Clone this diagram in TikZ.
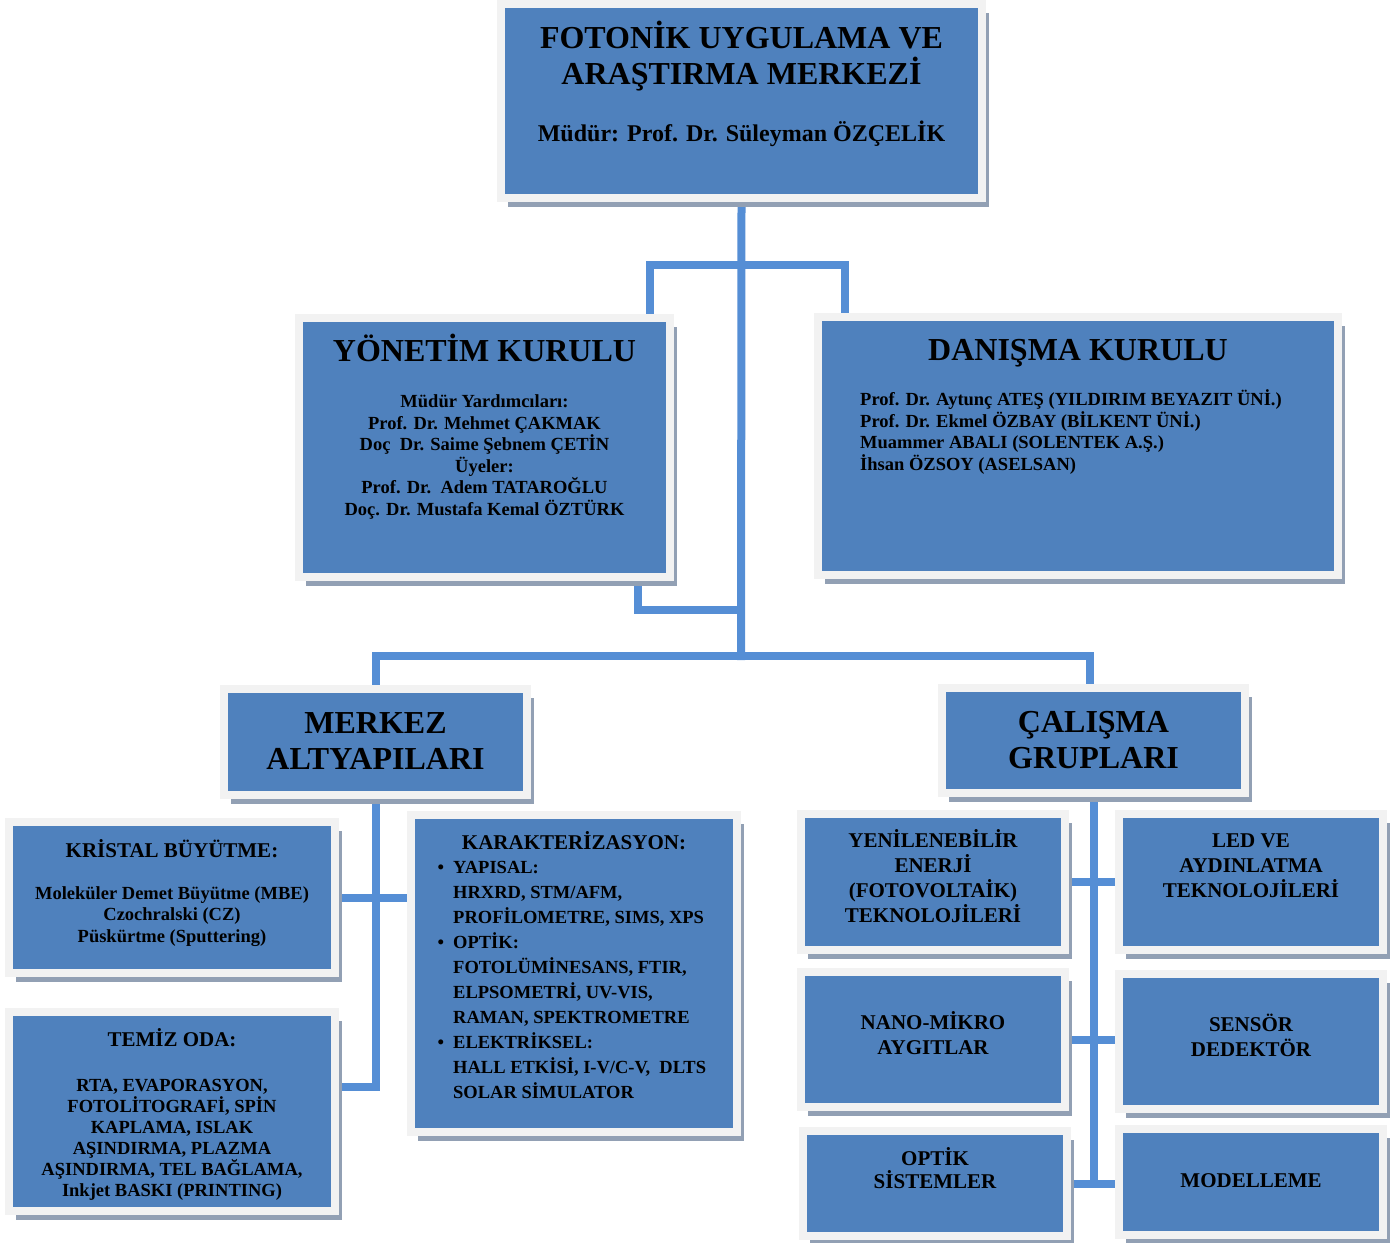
\documentclass[tikz,border=0pt]{standalone}
\usepackage{fontspec}
\setmainfont{Liberation Serif}
\usepackage{tikz}
\usetikzlibrary{positioning, shadows}
\usepackage{xcolor}

\definecolor{kutumavi}{RGB}{79,129,189}
\definecolor{cerceve}{RGB}{242,242,242}
\definecolor{golge}{RGB}{146,160,180}
\definecolor{hatmavi}{RGB}{85,142,213}

\pgfdeclarelayer{arka}
\pgfsetlayers{arka,main}

\newcommand{\madde}{\llap{\textbullet\hspace{9pt}}}

\begin{document}
\begin{tikzpicture}[ % Starts the TikZ drawing environment
        x=1pt, y=-1pt, % One unit per pixel, y pointing down
        kutu/.style={rectangle, fill=kutumavi, draw=cerceve, line width=8pt, inner sep=0pt,
            drop shadow={shadow xshift=7pt, shadow yshift=-9pt, fill=golge, opacity=1}}, % Blue box with light frame and shadow
        baslik/.style={font=\bfseries\fontsize{32}{36}\selectfont, align=center, inner sep=0pt, anchor=base}, % Big headings
        orta/.style={font=\bfseries\fontsize{24}{28}\selectfont, align=center, inner sep=0pt, anchor=base}, % Director line
        altbaslik/.style={font=\bfseries\fontsize{21}{25}\selectfont, align=center, inner sep=0pt, anchor=base}, % Small headings and groups
        yazi/.style={font=\bfseries\fontsize{18.5}{21.5}\selectfont, align=center, inner sep=0pt, anchor=base}, % Body text
        liste/.style={font=\bfseries\fontsize{18.5}{25}\selectfont, align=left, inner sep=0pt, anchor=base west}, % Bullet list
        baglanti/.style={draw=hatmavi, line width=8pt, line cap=rect} % Connector lines
    ]
    \useasboundingbox (0,0) rectangle (1396,1242);
    % --- Boxes ---
    \node (ust) [kutu, minimum width=481pt, minimum height=194pt] at (741.5,101) {};
    \node (yon) [kutu, minimum width=371pt, minimum height=259pt] at (484.5,447.5) {};
    \node (dan) [kutu, minimum width=520pt, minimum height=258pt] at (1078,446) {};
    \node (mer) [kutu, minimum width=303pt, minimum height=106pt] at (375.5,742) {};
    \node (cal) [kutu, minimum width=303pt, minimum height=105pt] at (1093.5,740.5) {};
    \node (kri) [kutu, minimum width=326pt, minimum height=151pt] at (172,897.5) {};
    \node (tem) [kutu, minimum width=326pt, minimum height=199pt] at (172,1111.5) {};
    \node (kar) [kutu, minimum width=326pt, minimum height=317pt] at (574,973.5) {};
    \node (yen) [kutu, minimum width=264pt, minimum height=136pt] at (933,882) {};
    \node (nan) [kutu, minimum width=264pt, minimum height=135pt] at (933,1039.5) {};
    \node (opt) [kutu, minimum width=264pt, minimum height=105pt] at (935,1183.5) {};
    \node (led) [kutu, minimum width=264pt, minimum height=136pt] at (1251,882) {};
    \node (sen) [kutu, minimum width=264pt, minimum height=135pt] at (1251,1041.5) {};
    \node (mod) [kutu, minimum width=264pt, minimum height=106pt] at (1251,1182) {};
    % --- Texts (placed at the baseline of their last line) ---
    \node (ustA) [baslik] at (741.5,84) {FOTONİK UYGULAMA VE\\ARAŞTIRMA MERKEZİ};
    \node (ustB) [orta] at (741.5,141) {Müdür: Prof. Dr. Süleyman ÖZÇELİK};
    \node (yonA) [baslik] at (484.5,361) {YÖNETİM KURULU};
    \node (yonB) [yazi] at (484.5,515) {Müdür Yardımcıları:\\Prof. Dr. Mehmet ÇAKMAK\\Doç\ \ Dr. Saime Şebnem ÇETİN\\Üyeler:\\Prof. Dr.\ \ Adem TATAROĞLU\\Doç. Dr. Mustafa Kemal ÖZTÜRK};
    \node (danA) [baslik] at (1078,360) {DANIŞMA KURULU};
    \node (danB) [yazi, align=left, anchor=base west] at (860,470) {Prof. Dr. Aytunç ATEŞ (YILDIRIM BEYAZIT ÜNİ.)\\Prof. Dr. Ekmel ÖZBAY (BİLKENT ÜNİ.)\\Muammer ABALI (SOLENTEK A.Ş.)\\İhsan ÖZSOY (ASELSAN)};
    \node (merA) [baslik] at (375.5,769) {MERKEZ\\ALTYAPILARI};
    \node (calA) [baslik] at (1093.5,768) {ÇALIŞMA\\GRUPLARI};
    \node (kriA) [altbaslik] at (172,857) {KRİSTAL BÜYÜTME:};
    \node (kriB) [yazi] at (172,942) {Moleküler Demet Büyütme (MBE)\\Czochralski (CZ)\\Püskürtme (Sputtering)};
    \node (temA) [altbaslik] at (172,1046) {TEMİZ ODA:};
    \node (temB) [yazi, font=\bfseries\fontsize{18.5}{21}\selectfont] at (172,1196) {RTA, EVAPORASYON,\\FOTOLİTOGRAFİ, SPİN\\KAPLAMA, ISLAK\\AŞINDIRMA, PLAZMA\\AŞINDIRMA, TEL BAĞLAMA,\\Inkjet BASKI (PRINTING)};
    \node (karA) [altbaslik] at (574,849) {KARAKTERİZASYON:};
    \node (karB) [liste] at (453,1098) {\madde YAPISAL:\\HRXRD, STM/AFM,\\PROFİLOMETRE, SIMS, XPS\\\madde OPTİK:\\FOTOLÜMİNESANS, FTIR,\\ELPSOMETRİ, UV-VIS,\\RAMAN, SPEKTROMETRE\\\madde ELEKTRİKSEL:\\HALL ETKİSİ, I-V/C-V,\ \ DLTS\\SOLAR SİMULATOR};
    \node (yenA) [altbaslik] at (933,922) {YENİLENEBİLİR\\ENERJİ\\(FOTOVOLTAİK)\\TEKNOLOJİLERİ};
    \node (ledA) [altbaslik] at (1251,897) {LED VE\\AYDINLATMA\\TEKNOLOJİLERİ};
    \node (nanA) [altbaslik] at (933,1054) {NANO-MİKRO\\AYGITLAR};
    \node (senA) [altbaslik] at (1251,1056) {SENSÖR\\DEDEKTÖR};
    \node (optA) [altbaslik, font=\bfseries\fontsize{21}{23}\selectfont] at (935,1188) {OPTİK\\SİSTEMLER};
    \node (modA) [altbaslik] at (1251,1187) {MODELLEME};
    % --- Connections ---
    \coordinate (ustbar) at (741,265);
    \coordinate (yonbag) at (741,610);
    \coordinate (altbar) at (741,656);
    \begin{pgfonlayer}{arka}
    \draw[baglanti] (ust.south) -- (altbar);
    \draw[baglanti] ([xshift=-24pt]yon.north east) |- (ustbar) -| ([xshift=31pt]dan.north west);
    \draw[baglanti] ([xshift=-36pt]yon.south east) |- (yonbag);
    \draw[baglanti] (mer.north) |- (altbar) -| ([xshift=-4pt]cal.north);
    \draw[baglanti] (mer.south) |- ([yshift=25pt]tem.east);
    \draw[baglanti] (kri.east) -- (kri.east -| kar.west);
    \draw[baglanti] (cal.south) |- (opt.east);
    \draw[baglanti] (yen.east) -- (yen.east -| led.west);
    \draw[baglanti] (nan.east) -- (nan.east -| sen.west);
    \draw[baglanti] (opt.east) -- (opt.east -| mod.west);
    \end{pgfonlayer}
\end{tikzpicture}
\end{document}
